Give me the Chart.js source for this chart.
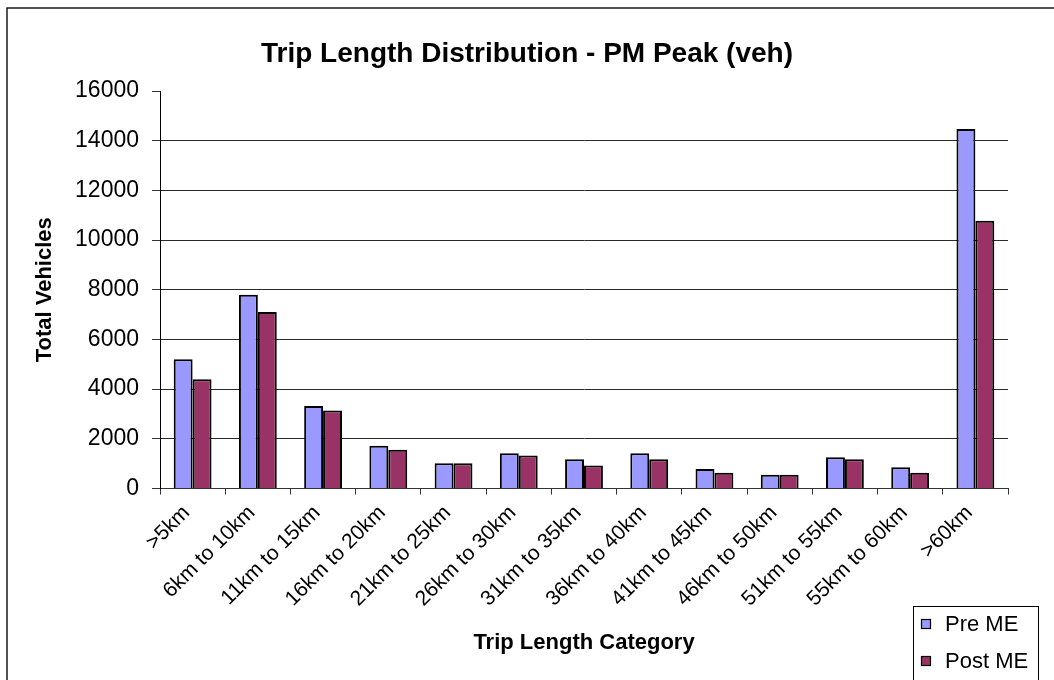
<!DOCTYPE html>
<html>
<head>
<meta charset="utf-8">
<script src="https://cdn.jsdelivr.net/npm/chart.js@4.4.1/dist/chart.umd.min.js"></script>
<style>
  html, body { margin: 0; padding: 0; background: #fff; }
  #wrap { width: 1054px; height: 680px; position: relative; overflow: hidden; }
</style>
</head>
<body>
<div id="wrap"><canvas id="c" width="1054" height="680"></canvas></div>
<script>
// Trip length bands and vehicle totals for the PM peak
const categories = [">5km", "6km to 10km", "11km to 15km", "16km to 20km", "21km to 25km",
  "26km to 30km", "31km to 35km", "36km to 40km", "41km to 45km", "46km to 50km",
  "51km to 55km", "55km to 60km", ">60km"];
const preME  = [5200, 7800, 3320, 1720, 1020, 1420, 1180, 1420, 780, 550, 1260, 860, 14470];
const postME = [4400, 7100, 3140, 1560, 1020, 1330, 930, 1180, 630, 550, 1180, 630, 10780];
const yTicks = [0, 2000, 4000, 6000, 8000, 10000, 12000, 14000, 16000];
const chartTitle = 'Trip Length Distribution - PM Peak (veh)';

const FONT = "'Liberation Sans', Arial, Helvetica, sans-serif";

// Outer frame of the chart object and the heading centred on the page
const framePlugin = {
  id: 'frame',
  afterDraw(chart) {
    const ctx = chart.ctx;
    ctx.save();
    ctx.strokeStyle = '#1a1a1a';
    ctx.lineWidth = 1.5;
    ctx.strokeRect(7, 8, 2000, 2000);
    ctx.fillStyle = '#000';
    ctx.font = "bold 28px " + FONT;
    ctx.textAlign = 'center';
    ctx.textBaseline = 'middle';
    ctx.fillText(chartTitle, chart.width / 2, 54);
    ctx.restore();
  }
};

// Boxed legend in the lower right corner
const boxLegend = {
  id: 'boxLegend',
  afterDraw(chart) {
    const ctx = chart.ctx;
    ctx.save();
    ctx.strokeStyle = '#000';
    ctx.lineWidth = 1;
    ctx.strokeRect(913.5, 606.5, 125, 120);
    ctx.font = "22px " + FONT;
    ctx.textBaseline = 'middle';
    ctx.textAlign = 'left';
    chart.data.datasets.forEach((ds, i) => {
      const y = 624 + i * 37;
      ctx.fillStyle = ds.backgroundColor;
      ctx.fillRect(921, y - 5, 10, 10);
      ctx.strokeStyle = '#000';
      ctx.lineWidth = 1.2;
      ctx.strokeRect(921.5, y - 4.5, 9, 9);
      ctx.fillStyle = '#000';
      ctx.fillText(ds.label, 945, y + 1);
    });
    ctx.restore();
  }
};

new Chart(document.getElementById('c'), {
  type: 'bar',
  data: {
    labels: categories,
    datasets: [
      { label: 'Pre ME', data: preME, backgroundColor: '#9999FF', borderColor: '#000', borderWidth: 2 },
      { label: 'Post ME', data: postME, backgroundColor: '#993366', borderColor: '#000', borderWidth: 2 }
    ]
  },
  options: {
    responsive: false,
    animation: false,
    devicePixelRatio: 1,
    layout: { padding: { left: 10, right: 46, top: 91, bottom: 0 } },
    datasets: { bar: { categoryPercentage: 0.58, barPercentage: 1.0 } },
    plugins: {
      legend: { display: false },
      tooltip: { enabled: false },
      title: { display: false }
    },
    scales: {
      x: {
        grid: {
          display: true, drawOnChartArea: false, drawTicks: true, tickLength: 6,
          offset: true, color: '#333', lineWidth: 1
        },
        border: { color: '#333', width: 1 },
        ticks: {
          color: '#000', font: { family: FONT, size: 21 },
          maxRotation: 45, minRotation: 45, padding: 6, autoSkip: false,
          labelOffset: -6
        },
        title: {
          display: true, text: 'Trip Length Category', color: '#000',
          font: { family: FONT, size: 22, weight: 'bold' },
          padding: { top: 0, bottom: 24 }
        },
        afterFit(scale) { scale.height = 191.5; }
      },
      y: {
        min: 0, max: 16000,
        afterBuildTicks(scale) { scale.ticks = yTicks.map(v => ({ value: v })); },
        grid: {
          color: (c) => (c.tick && c.tick.value === 16000) ? 'rgba(0,0,0,0)' : '#2a2a2a',
          tickColor: '#333', tickLength: 8, lineWidth: 1
        },
        border: { color: '#000', width: 1 },
        ticks: {
          color: '#000', font: { family: FONT, size: 23 }, padding: 13,
          callback: (v) => String(v)
        },
        title: {
          display: true, text: 'Total Vehicles', color: '#000',
          font: { family: FONT, size: 22, weight: 'bold' },
          padding: { top: 22, bottom: 0 }
        },
        afterFit(scale) { scale.width = 150; }
      }
    }
  },
  plugins: [framePlugin, boxLegend]
});
</script>
</body>
</html>
